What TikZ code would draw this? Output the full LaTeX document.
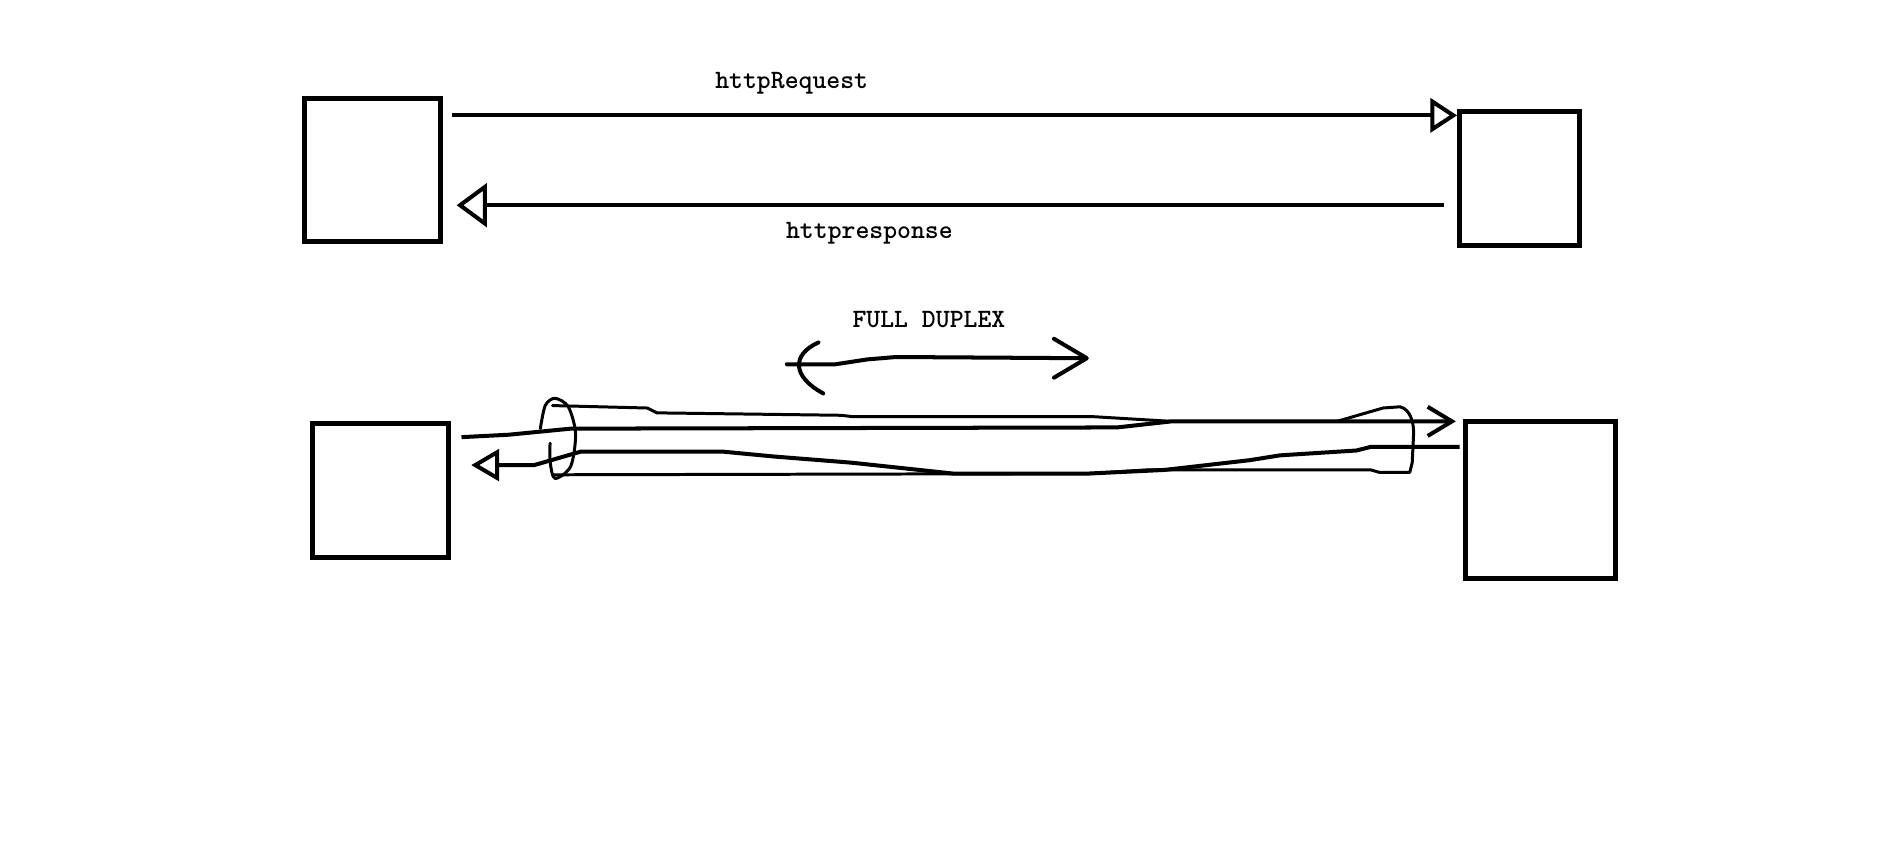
\documentclass[tikz,border=0pt]{standalone}
\usepackage{fontspec}
\usetikzlibrary{arrows.meta}

\begin{document}
\begin{tikzpicture}[
      x=0.1mm, y=-0.1mm,
      every node/.style={font=\ttfamily\bfseries\fontsize{6.2}{7}\selectfont\addfontfeature{FakeBold=1.2}},
      peer/.style={draw, line width=1.17pt, inner sep=0pt},
      msg/.style={line width=0.94pt},
      pen/.style={line width=0.7pt, line join=round, line cap=round}
    ]
    \useasboundingbox (0,0) rectangle (1568,712);

    % half duplex: request then response
    \node[peer, minimum width=11.2mm, minimum height=11.8mm] (client) at (307,140) {};
    \node[peer, minimum width=9.9mm, minimum height=11mm] (server) at (1251.5,147) {};
    \node[anchor=base] (req) at (652,73) {httpRequest};
    \node[anchor=base] (resp) at (716,196) {httpresponse};

    \draw[msg, -{Triangle[open, length=2.2mm, width=2.8mm]}, shorten <=0.7mm]
      (client.east |- 0,95) -- (server.west |- 0,95);
    \draw[msg, -{Triangle[open, length=2.5mm, width=3.6mm]}, shorten <=1.1mm, shorten >=1.1mm]
      (server.west |- 0,169) -- (client.east |- 0,169);

    % full duplex: both ways in one pipe
    \node[peer, minimum width=11.2mm, minimum height=11mm] (wsclient) at (313,404) {};
    \node[peer, minimum width=12.3mm, minimum height=12.9mm] (wsserver) at (1268.5,411.5) {};
    \node[anchor=base] (duplex) at (765,270) {FULL DUPLEX};

    \draw[msg, line cap=round] (648,300) -- (688,300) -- (714,296) -- (738,294) -- (893,295);
    \draw[msg, line cap=round] (674,282) .. controls (652,292) and (652,310) .. (678,324);
    \draw[msg, line cap=round, line join=round] (868,279) -- (895,295) -- (868,311);

    \draw[pen] (455,334) -- (533,336) -- (541,340) -- (693,342) -- (701,343) -- (898,343)
      -- (965,347) -- (1101,347) -- (1139,336) -- (1153,335)
      .. controls (1162,337) and (1165,350) .. (1164,360) -- (1163,381) -- (1161,389)
      -- (1136,389) -- (1129,387) -- (944,387) -- (898,390) -- (455,391);
    \draw[pen] plot[smooth] coordinates {(445,353) (449,334) (457,328) (468,335) (474,357)
      (470,384) (457,394) (453,380) (453,365)};

    \draw[msg, line join=round, -{Straight Barb[length=2mm, width=2.4mm]}]
      ([xshift=0.9mm]wsclient.east |- 0,360) -- (419,358) -- (470,353) -- (920,352)
      -- (965,347) -- ([xshift=-0.6mm]wsserver.west |- 0,347);
    \draw[msg, line join=round, -{Triangle[open, length=2.3mm, width=2.6mm]}]
      ([xshift=-0.3mm]wsserver.west |- 0,368) -- (1129,368) -- (1117,371) -- (1054,375)
      -- (1029,379) -- (959,387) -- (896,390) -- (785,390) -- (701,381) -- (638,376)
      -- (596,372) -- (478,372) -- (440,383) -- ([xshift=1.7mm]wsclient.east |- 0,383);
\end{tikzpicture}
\end{document}
